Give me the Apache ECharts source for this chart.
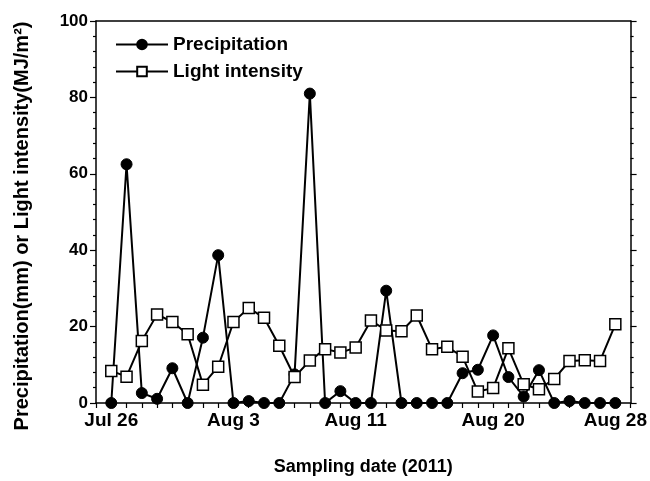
<!DOCTYPE html>
<html>
<head>
<meta charset="utf-8">
<script src="https://cdn.jsdelivr.net/npm/echarts@6/dist/echarts.min.js"></script>
<style>
  html, body { margin: 0; padding: 0; background: #fff; }
  #chart { width: 650px; height: 481px; }
</style>
</head>
<body>
<div id="chart"></div>
<script>
// 日期: Jul 26 .. Aug 28 (day index 0..33)
var days = ["Jul 26","Jul 27","Jul 28","Jul 29","Jul 30","Jul 31","Aug 1","Aug 2","Aug 3","Aug 4",
  "Aug 5","Aug 6","Aug 7","Aug 8","Aug 9","Aug 10","Aug 11","Aug 12","Aug 13","Aug 14",
  "Aug 15","Aug 16","Aug 17","Aug 18","Aug 19","Aug 20","Aug 21","Aug 22","Aug 23","Aug 24",
  "Aug 25","Aug 26","Aug 27","Aug 28"];
var precipitation = [0, 62.5, 2.6, 1.1, 9.1, 0, 17.1, 38.7, 0, 0.5,
  0, 0, 7.5, 81, 0, 3.1, 0, 0, 29.4, 0,
  0, 0, 0, 7.8, 8.7, 17.7, 6.8, 1.7, 8.6, 0,
  0.5, 0, 0, 0];
var light = [8.4, 6.9, 16.2, 23.2, 21.2, 18.0, 4.8, 9.5, 21.2, 24.9,
  22.3, 15.0, 6.8, 11.1, 14.1, 13.2, 14.5, 21.6, 19.0, 18.8,
  22.9, 14.1, 14.7, 12.1, 3.0, 3.9, 14.3, 4.9, 3.6, 6.3,
  11.0, 11.2, 11.0, 20.6];
// x轴刻度标签
var tickDays = [0, 8, 16, 25, 33];
var tickLabels = ["Jul 26", "Aug 3", "Aug 11", "Aug 20", "Aug 28"];

function toPts(arr) {
  return arr.map(function (v, i) { return [i, v]; });
}

var font = "Arial, 'Liberation Sans', sans-serif";
var black = "#000";

var option = {
  animation: false,
  backgroundColor: "#fff",
  grid: { left: 96, right: 18, top: 21, bottom: 76, containLabel: false },
  legend: {
    orient: "vertical",
    left: 110,
    top: 30,
    itemWidth: 52,
    itemHeight: 12,
    itemGap: 8,
    textStyle: { fontFamily: font, fontWeight: "bold", fontSize: 19, color: black },
    data: ["Precipitation", "Light intensity"]
  },
  graphic: [{
    type: "text",
    x: 22,
    y: 226,
    rotation: Math.PI / 2,
    style: {
      text: "Precipitation(mm) or Light intensity(MJ/m²)",
      fontFamily: font, fontWeight: "bold", fontSize: 20, fill: black,
      align: "center", verticalAlign: "middle"
    }
  }],
  xAxis: [{
    type: "value",
    min: -1,
    max: 34,
    interval: 1,
    name: "Sampling date (2011)",
    nameLocation: "middle",
    nameGap: 55,
    nameTextStyle: { fontFamily: font, fontWeight: "bold", fontSize: 18, color: black },
    axisLine: { show: true, onZero: false, lineStyle: { color: black, width: 1.5 } },
    axisTick: { show: true, inside: false, length: 5, lineStyle: { color: black, width: 1.2 } },
    splitLine: { show: false },
    axisLabel: {
      fontFamily: font, fontWeight: "bold", fontSize: 19, color: black, margin: 8,
      showMinLabel: true, showMaxLabel: true,
      formatter: function (v) {
        var k = tickDays.indexOf(v);
        return k >= 0 ? tickLabels[k] : "";
      }
    }
  }, {
    type: "value",
    position: "top",
    min: -1,
    max: 34,
    axisLine: { show: true, onZero: false, lineStyle: { color: black, width: 1.5 } },
    axisTick: { show: false },
    axisLabel: { show: false },
    splitLine: { show: false }
  }],
  yAxis: [{
    type: "value",
    min: 0,
    max: 100,
    interval: 20,
    axisLine: { show: true, onZero: false, lineStyle: { color: black, width: 1.5 } },
    axisTick: { show: true, inside: false, length: 6, lineStyle: { color: black, width: 1.2 } },
    minorTick: { show: true, splitNumber: 5, length: 3, lineStyle: { color: black, width: 1.2 } },
    splitLine: { show: false },
    axisLabel: { fontFamily: font, fontWeight: "bold", fontSize: 17, color: black, margin: 8 }
  }, {
    type: "value",
    position: "right",
    min: 0,
    max: 100,
    interval: 20,
    axisLine: { show: true, onZero: false, lineStyle: { color: black, width: 1.5 } },
    axisTick: { show: true, inside: false, length: 6, lineStyle: { color: black, width: 1.2 } },
    minorTick: { show: true, splitNumber: 5, length: 3, lineStyle: { color: black, width: 1.2 } },
    splitLine: { show: false },
    axisLabel: { show: false }
  }],
  series: [{
    name: "Precipitation",
    type: "line",
    data: toPts(precipitation),
    symbol: "circle",
    symbolSize: 11,
    itemStyle: { color: black, borderColor: black, borderWidth: 1 },
    lineStyle: { color: black, width: 2 },
    z: 3
  }, {
    name: "Light intensity",
    type: "line",
    data: toPts(light),
    symbol: "rect",
    symbolSize: 11,
    itemStyle: { color: "#fff", borderColor: black, borderWidth: 1.5 },
    lineStyle: { color: black, width: 2 },
    z: 4
  }]
};

var chartObj = echarts.init(document.getElementById("chart"));
chartObj.setOption(option);
</script>
</body>
</html>
